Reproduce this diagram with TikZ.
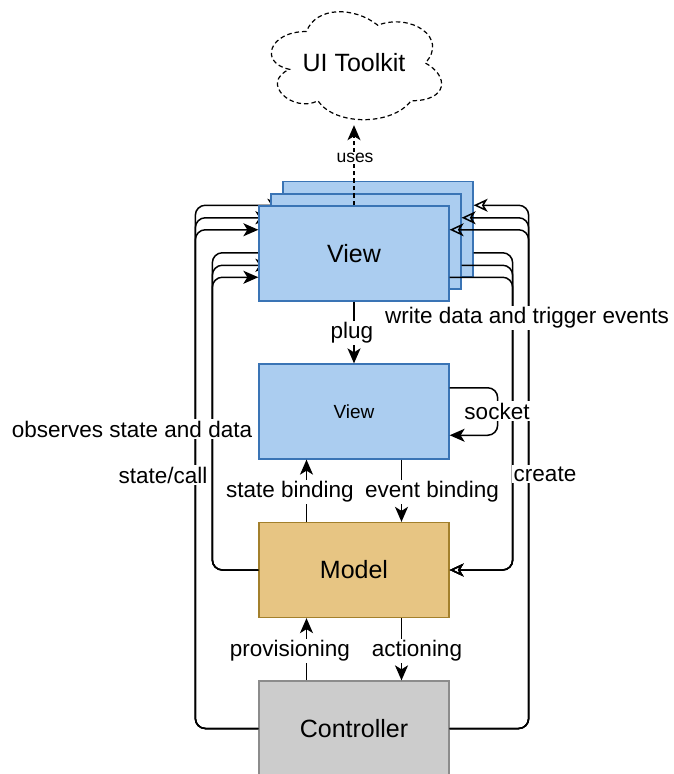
\documentclass[tikz,border=0pt]{standalone}
\usepackage{fontspec}
\setmainfont{Liberation Sans}
\usetikzlibrary{arrows.meta}
\definecolor{viewfill}{HTML}{ABCDF0}
\definecolor{viewdraw}{HTML}{3A74B5}
\definecolor{modelfill}{HTML}{E7C583}
\definecolor{modeldraw}{HTML}{A3802C}
\definecolor{ctrlfill}{HTML}{CCCCCC}
\definecolor{ctrldraw}{HTML}{8C8C8C}
\begin{document}
\begin{tikzpicture}[x=1pt,y=-1pt,
 box/.style={draw, line width=1.3pt, minimum width=190pt, minimum height=95pt, inner sep=0pt, anchor=center},
 viewbox/.style={box, fill=viewfill, draw=viewdraw},
 bigtxt/.style={font=\fontsize{25}{30}\selectfont},
 conn/.style={line width=1.5pt, rounded corners=10pt},
 fa/.style={conn, -{Stealth[length=15pt,width=13pt,inset=4pt]}},
 oa/.style={conn, -{Stealth[open,length=14pt,width=13pt,inset=4pt]}},
 lbl/.style={fill=white, inner sep=1.5pt, font=\fontsize{22.5}{26}\selectfont},
 dsh/.style={dash pattern=on 4.5pt off 3pt},
]
\useasboundingbox (0,0) rectangle (673,774);

% model and controller
\node[box, bigtxt, fill=modelfill, draw=modeldraw] (model) at (354,570) {Model};
\node[box, bigtxt, fill=ctrlfill, draw=ctrldraw] (ctrl) at (354,728.5) {Controller};

% back view
\node[viewbox] (v3) at (378,229) {};
\draw[fa] (ctrl.west) -- ++(-63,0) |- ([yshift=23.75pt]v3.west);
\draw[fa] (model.west) -- ++(-46,0) |- ([yshift=-23.75pt]v3.west);
\draw[oa] (ctrl.east) -- ++(79,0) |- ([yshift=23.75pt]v3.east);
\draw[oa] ([yshift=-23.75pt]v3.east) -| ([xshift=63pt]model.east) -- (model.east);

% middle view
\node[viewbox] (v2) at (366,241.5) {};
\draw[fa] (ctrl.west) -- ++(-63,0) |- ([yshift=23.75pt]v2.west);
\draw[fa] (model.west) -- ++(-46,0) |- ([yshift=-23.75pt]v2.west);
\draw[oa] (ctrl.east) -- ++(79,0) |- ([yshift=23.75pt]v2.east);
\draw[oa] ([yshift=-23.75pt]v2.east) -| ([xshift=63pt]model.east) -- (model.east);

% front view
\node[viewbox, bigtxt] (v1) at (354,253.5) {View};
\draw[fa] (ctrl.west) -- ++(-63,0) |- ([yshift=23.75pt]v1.west);
\draw[fa] (model.west) -- ++(-46,0) |- ([yshift=-23.75pt]v1.west);
\draw[oa] (ctrl.east) -- ++(79,0) |- ([yshift=23.75pt]v1.east);
\draw[oa] ([yshift=-23.75pt]v1.east) -| ([xshift=63pt]model.east) -- (model.east);

% inner view
\node[viewbox, font=\fontsize{19}{23}\selectfont] (view2) at (354,411.5) {View};

% cloud (draw.io style outline)
\node[minimum width=190pt, minimum height=126pt, inner sep=0pt, bigtxt] (cloud) at (354,63) {UI Toolkit};
\draw[dsh, line width=1.2pt] (306.5,31.5)
  .. controls (268.5,31.5) and (259,63) .. (289.4,69.3)
  .. controls (259,83.2) and (293.2,113.4) .. (317.9,100.8)
  .. controls (335,126) and (392,126) .. (411,100.8)
  .. controls (449,100.8) and (449,75.6) .. (425.25,63)
  .. controls (449,37.8) and (411,12.6) .. (377.75,25.2)
  .. controls (354,6.3) and (316,6.3) .. (306.5,31.5) -- cycle;

% connectors
\draw[fa, dsh, shorten >=-1pt] (v1.north) -- (cloud.south);
\draw[fa] (v1.south) -- (view2.north);
\draw[fa] ([yshift=23.75pt]view2.east) -- ++(48,0) |- ([yshift=-23.75pt]view2.east);
\draw[fa] ([xshift=-47.5pt]model.north) -- ([xshift=-47.5pt]view2.south);
\draw[fa] ([xshift=47.5pt]view2.south) -- ([xshift=47.5pt]model.north);
\draw[fa] ([xshift=-47.5pt]ctrl.north) -- ([xshift=-47.5pt]model.south);
\draw[fa] ([xshift=47.5pt]model.south) -- ([xshift=47.5pt]ctrl.north);

% labels
\node[lbl, font=\fontsize{17.5}{21}\selectfont] (luses) at (355,158) {uses};
\node[lbl] (lplug) at (352,333) {plug};
\node[lbl] (lwrite) at (527,318) {write data and trigger events};
\node[lbl] (lsocket) at (497,411) {socket};
\node[lbl] (lobs) at (132,429) {observes state and data};
\node[lbl] (lstate) at (163,475) {state/call};
\node[lbl] (lcreate) at (545,474) {create};
\node[lbl] (lsb) at (290,492) {state binding};
\node[lbl] (leb) at (432,492) {event binding};
\node[lbl] (lprov) at (290,651) {provisioning};
\node[lbl] (lact) at (417,651) {actioning};
\end{tikzpicture}
\end{document}
